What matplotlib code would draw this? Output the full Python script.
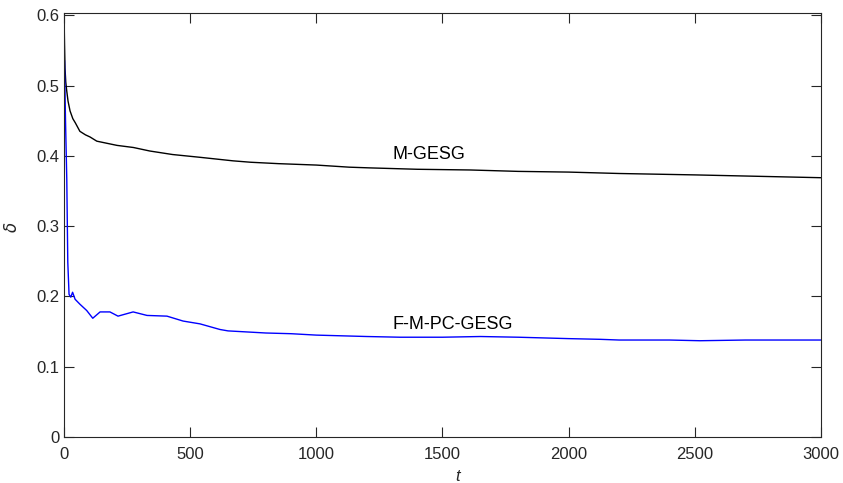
import matplotlib
matplotlib.use("Agg")
import matplotlib.pyplot as plt

plt.rcParams["font.family"] = ["Liberation Sans", "DejaVu Sans"]

# M-GESG (black)
t_mgesg = [0, 2, 4, 7, 11, 16, 24, 35, 45, 63, 85, 103, 130, 170, 210, 275,
           340, 430, 540, 670, 740, 850, 1000, 1130, 1210, 1400, 1610, 1800,
           2000, 2200, 2500, 2750, 3000]
d_mgesg = [0.603, 0.56, 0.525, 0.505, 0.492, 0.478, 0.464, 0.453, 0.447,
           0.435, 0.430, 0.427, 0.421, 0.418, 0.415, 0.412, 0.407, 0.402,
           0.398, 0.393, 0.391, 0.389, 0.387, 0.384, 0.383, 0.381, 0.380,
           0.378, 0.377, 0.375, 0.373, 0.371, 0.369]

# F-M-PC-GESG (blue)
t_fmpc = [2, 6, 11, 15, 20, 27, 34, 44, 63, 90, 114, 143, 182, 214, 274,
          329, 408, 472, 539, 618, 650, 700, 800, 900, 1000, 1100, 1200,
          1332, 1500, 1650, 1800, 2000, 2125, 2200, 2400, 2520, 2700, 3000]
d_fmpc = [0.535, 0.45, 0.367, 0.249, 0.203, 0.199, 0.206, 0.196, 0.189,
          0.180, 0.169, 0.178, 0.178, 0.172, 0.178, 0.173, 0.172, 0.165,
          0.161, 0.153, 0.151, 0.150, 0.148, 0.147, 0.145, 0.144, 0.143,
          0.142, 0.142, 0.143, 0.142, 0.140, 0.139, 0.138, 0.138, 0.137,
          0.138, 0.138]

TXT = "#262626"

fig = plt.figure(figsize=(8.43, 4.83), dpi=100)
ax = fig.add_axes([64 / 843, 46 / 483, 757 / 843, 424 / 483])

ax.plot(t_mgesg, d_mgesg, color="black", lw=1.0)
ax.plot(t_fmpc, d_fmpc, color="#0000FF", lw=1.0)

ax.text(1300, 0.402, "M-GESG", fontsize=13, color="black", va="center")
ax.text(1300, 0.160, "F-M-PC-GESG", fontsize=13, color="black", va="center")

ax.set_xlim(0, 3000)
ax.set_ylim(0, 0.6034)
ax.set_xticks([0, 500, 1000, 1500, 2000, 2500, 3000])
ax.set_yticks([0, 0.1, 0.2, 0.3, 0.4, 0.5, 0.6])
ax.set_yticklabels(["0", "0.1", "0.2", "0.3", "0.4", "0.5", "0.6"])

ax.tick_params(direction="in", length=7, width=0.8, top=True, right=True,
               labelsize=12, colors=TXT, labelcolor=TXT)
ax.tick_params(axis="x", pad=7)
for s in ax.spines.values():
    s.set_color(TXT)
    s.set_linewidth(0.8)

ax.set_xlabel("t", fontsize=12, fontstyle="italic", color=TXT, va="top")
ax.set_ylabel(r"$\delta$", fontsize=12, color=TXT)
ax.xaxis.set_label_coords(0.52, -0.076)
ax.yaxis.set_label_coords(-0.058, 0.494)

fig.savefig("out.png", dpi=100)
